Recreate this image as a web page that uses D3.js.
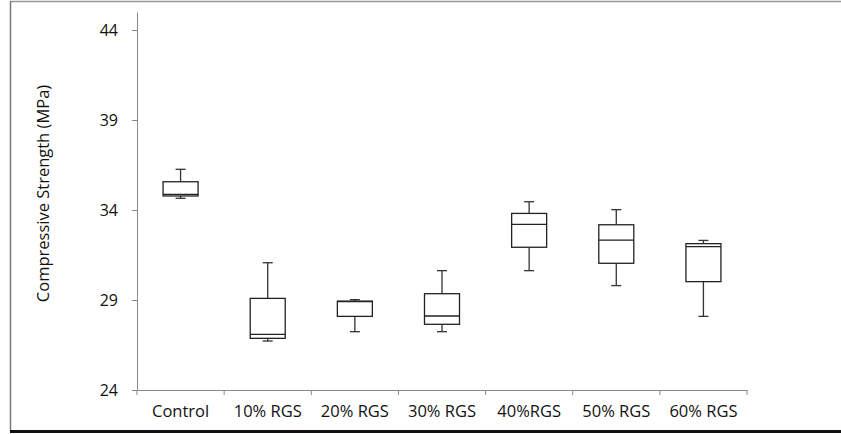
<!DOCTYPE html>
<html>
<head>
<meta charset="utf-8">
<script src="https://cdn.jsdelivr.net/npm/d3@7"></script>
<style>
  body { margin: 0; background: #fff; }
  text { font-family: "Open Sans", sans-serif; fill: #111; }
</style>
</head>
<body>
<div id="chart"></div>
<script>
// box plot data
var groups = ["Control", "10% RGS", "20% RGS", "30% RGS", "40%RGS", "50% RGS", "60% RGS"];
var mins    = [34.65, 26.72, 27.24, 27.24, 30.63, 29.80, 28.09];
var q1s     = [34.78, 26.87, 28.09, 27.65, 31.93, 31.04, 30.02];
var medians = [34.87, 27.09, 28.91, 28.11, 33.20, 32.33, 31.96];
var q3s     = [35.57, 29.09, 28.94, 29.35, 33.81, 33.18, 32.13];
var maxs    = [36.26, 31.07, 29.02, 30.63, 34.46, 34.02, 32.31];
var yTicks  = [24, 29, 34, 39, 44];

var W = 841, H = 434;
var margin = { top: 12, right: 94, bottom: 44, left: 137 },
    width = W - margin.left - margin.right,
    height = H - margin.top - margin.bottom;

var data = groups.map(function (g, i) {
    return { name: g, min: mins[i], q1: q1s[i], med: medians[i], q3: q3s[i], max: maxs[i] };
});

var svg0 = d3.select("#chart").append("svg")
    .attr("width", W)
    .attr("height", H);

// frame
svg0.append("line").attr("x1", 10).attr("x2", W).attr("y1", 1.5).attr("y2", 1.5)
    .attr("stroke", "#999").attr("stroke-width", 1.5);
svg0.append("line").attr("x1", 10.5).attr("x2", 10.5).attr("y1", 1).attr("y2", 431)
    .attr("stroke", "#777").attr("stroke-width", 1.5);
svg0.append("line").attr("x1", 10).attr("x2", W).attr("y1", 431.5).attr("y2", 431.5)
    .attr("stroke", "#111").attr("stroke-width", 3);

var svg = svg0.append("g")
    .attr("transform", "translate(" + margin.left + "," + margin.top + ")");

var x = d3.scaleBand().domain(groups).range([0, width]).paddingInner(0).paddingOuter(0);
var y = d3.scaleLinear().domain([24, 24 + 5 * (height / 90)]).range([height, 0]);

// y axis
var yAxis = svg.append("g")
    .call(d3.axisLeft(y).tickValues(yTicks).tickSize(5).tickSizeOuter(0).tickFormat(d3.format("d")));
yAxis.select(".domain").attr("stroke", "#888");
yAxis.selectAll(".tick line").attr("stroke", "#888");
yAxis.selectAll(".tick text").attr("x", -19).style("font-size", "16px").attr("fill", "#111");

// x axis with ticks at category boundaries
var xAxis = svg.append("g")
    .attr("transform", "translate(0," + height + ")")
    .call(d3.axisBottom(x).tickSize(0).tickSizeOuter(0));
xAxis.select(".domain").attr("stroke", "#888");
xAxis.selectAll(".tick text").attr("y", 15).style("font-size", "16.5px").attr("fill", "#111");
xAxis.selectAll(".sep")
    .data(groups.slice(1).concat(["end"]))
    .enter()
    .append("line")
    .attr("class", "sep")
    .attr("x1", function (d, i) { return x.step() * (i + 1); })
    .attr("x2", function (d, i) { return x.step() * (i + 1); })
    .attr("y1", 0).attr("y2", 5)
    .attr("stroke", "#888");
xAxis.append("line").attr("x1", 0).attr("x2", 0).attr("y1", 0).attr("y2", 5).attr("stroke", "#888");

// y label
svg0.append("text")
    .attr("transform", "translate(45,193.5) rotate(-90)")
    .attr("text-anchor", "middle")
    .attr("dominant-baseline", "middle")
    .style("font-size", "16.5px")
    .text("Compressive Strength (MPa)");

// boxes
var boxW = 35, capW = 10;
var box = svg.selectAll(".box")
    .data(data)
    .enter()
    .append("g")
    .attr("class", "box")
    .attr("transform", function (d) { return "translate(" + (x(d.name) + x.bandwidth() / 2) + ",0)"; });

box.append("line")
    .attr("x1", 0).attr("x2", 0)
    .attr("y1", function (d) { return y(d.max); })
    .attr("y2", function (d) { return y(d.q3); })
    .attr("stroke", "#333").attr("stroke-width", 1.3);
box.append("line")
    .attr("x1", 0).attr("x2", 0)
    .attr("y1", function (d) { return y(d.q1); })
    .attr("y2", function (d) { return y(d.min); })
    .attr("stroke", "#333").attr("stroke-width", 1.3);
box.append("line")
    .attr("x1", -capW / 2).attr("x2", capW / 2)
    .attr("y1", function (d) { return y(d.max); })
    .attr("y2", function (d) { return y(d.max); })
    .attr("stroke", "#333").attr("stroke-width", 1.3);
box.append("line")
    .attr("x1", -capW / 2).attr("x2", capW / 2)
    .attr("y1", function (d) { return y(d.min); })
    .attr("y2", function (d) { return y(d.min); })
    .attr("stroke", "#333").attr("stroke-width", 1.3);
box.append("rect")
    .attr("x", -boxW / 2)
    .attr("width", boxW)
    .attr("y", function (d) { return y(d.q3); })
    .attr("height", function (d) { return y(d.q1) - y(d.q3); })
    .attr("fill", "#fff")
    .attr("stroke", "#222").attr("stroke-width", 1.3);
box.append("line")
    .attr("x1", -boxW / 2).attr("x2", boxW / 2)
    .attr("y1", function (d) { return y(d.med); })
    .attr("y2", function (d) { return y(d.med); })
    .attr("stroke", "#222").attr("stroke-width", 1.3);
</script>
</body>
</html>
